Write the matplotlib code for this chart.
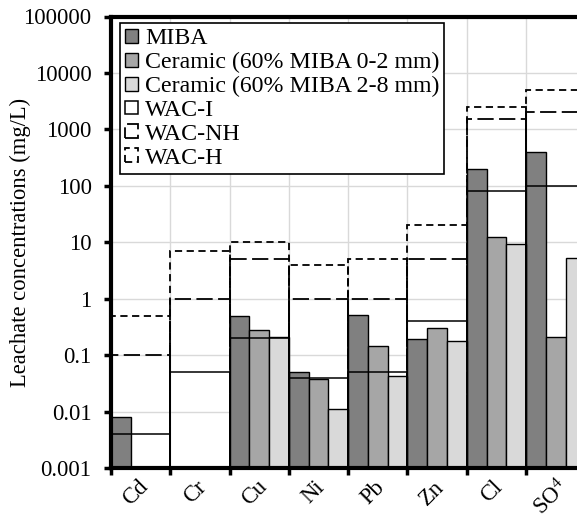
import numpy as np
import matplotlib
matplotlib.use('Agg')
import matplotlib.pyplot as plt

plt.rcParams['font.family'] = ['Liberation Serif', 'DejaVu Serif']
plt.rcParams['mathtext.fontset'] = 'custom'
plt.rcParams['mathtext.rm'] = 'Liberation Serif'
plt.rcParams['mathtext.default'] = 'regular'

# leachate data (mg/L)
categories = ['Cd', 'Cr', 'Cu', 'Ni', 'Pb', 'Zn', 'Cl', 'SO$^{4}$']
miba = [0.008, np.nan, 0.5, 0.05, 0.52, 0.19, 200, 390]
ceramic_fine = [np.nan, np.nan, 0.28, 0.038, 0.145, 0.30, 12.5, 0.21]
ceramic_coarse = [np.nan, np.nan, 0.21, 0.011, 0.043, 0.18, 9.2, 5.2]

# waste acceptance criteria limits
wac_i = [0.004, 0.05, 0.2, 0.04, 0.05, 0.4, 80, 100]
wac_nh = [0.1, 1, 5, 1, 1, 5, 1500, 2000]
wac_h = [0.5, 7, 10, 4, 5, 20, 2500, 5000]

yticks = [0.001, 0.01, 0.1, 1, 10, 100, 1000, 10000, 100000]
ytick_labels = ['0.001', '0.01', '0.1', '1', '10', '100', '1000', '10000', '100000']

fs = 16.3

fig = plt.figure(figsize=(5.77, 5.19), dpi=100)
ax = fig.add_axes([111/577, 51/519, 474.4/577, 451.5/519])
ax.set_yscale('log')

x = np.arange(len(categories))
w = 1/3

ax.bar(x - w, miba, w, color='#808080', edgecolor='black', linewidth=1, zorder=2, label='MIBA')
ax.bar(x, ceramic_fine, w, color='#a6a6a6', edgecolor='black', linewidth=1, zorder=2,
       label='Ceramic (60% MIBA 0-2 mm)')
ax.bar(x + w, ceramic_coarse, w, color='#d9d9d9', edgecolor='black', linewidth=1, zorder=2,
       label='Ceramic (60% MIBA 2-8 mm)')

ax.bar(x, wac_i, 1, fill=False, edgecolor='black', linewidth=1.1, zorder=3, label='WAC-I')
ax.bar(x, wac_nh, 1, fill=False, edgecolor='black', linewidth=1.3, linestyle=(0, (9, 3)),
       zorder=3, label='WAC-NH')
ax.bar(x, wac_h, 1, fill=False, edgecolor='black', linewidth=1.3, linestyle=(0, (4, 2.5)),
       zorder=3, label='WAC-H')

ax.set_xlim(-0.5, len(categories) - 0.5)
ax.set_ylim(0.001, 100000)

ax.set_yticks(yticks)
ax.set_yticklabels(ytick_labels)
ax.yaxis.set_minor_locator(matplotlib.ticker.NullLocator())
ax.set_xticks(np.arange(len(categories) + 1) - 0.5)
ax.set_xticklabels([])
ax.set_xticks(x - 0.08, minor=True)
ax.set_xticklabels(categories, minor=True, rotation=45, ha='center', va='top')

ax.tick_params(axis='both', which='major', labelsize=fs, width=2.5, length=5, direction='out')
ax.tick_params(axis='y', which='major', pad=9)
ax.tick_params(axis='x', which='minor', length=0, labelsize=fs, pad=6)

ax.grid(True, which='major', color='#d9d9d9', linewidth=1, zorder=0)
ax.set_axisbelow(True)

for side in ['left', 'bottom', 'top']:
    ax.spines[side].set_linewidth(3)
ax.spines['right'].set_visible(False)

ax.set_ylabel('Leachate concentrations (mg/L)', fontsize=fs)
ax.yaxis.set_label_coords(-0.168, 0.5)

leg = ax.legend(loc='upper left', bbox_to_anchor=(0.019, 0.986), fontsize=17.2, fancybox=False,
                edgecolor='black', framealpha=1, handlelength=0.52, handleheight=0.52,
                handletextpad=0.3, labelspacing=0.12, borderpad=0.22, borderaxespad=0)
leg.get_frame().set_linewidth(1.2)
leg.set_zorder(5)

fig.savefig('out.png', dpi=100)
